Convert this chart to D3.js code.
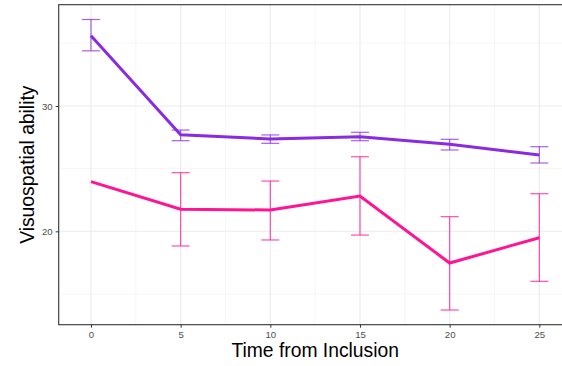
<!DOCTYPE html>
<html>
<head>
<meta charset="utf-8">
<script src="https://cdn.jsdelivr.net/npm/d3@7"></script>
<style>
  body { margin: 0; background: #fff; }
  svg { font-family: "Liberation Sans", Arial, sans-serif; }
</style>
</head>
<body>
<div id="chart"></div>
<script>
// time points
var times = [0, 5, 10, 15, 20, 25];

// purple group: mean, lower, upper
var purpleMean = [35.6, 27.7, 27.37, 27.55, 26.94, 26.09];
var purpleLow  = [34.4, 27.23, 27.02, 27.23, 26.49, 25.45];
var purpleHigh = [36.9, 28.08, 27.69, 27.9, 27.34, 26.75];

// pink group
var pinkMean = [23.96, 21.76, 21.7, 22.82, 17.47, 19.49];
var pinkLow  = [null, 18.83, 19.31, 19.7, 13.72, 16.01];
var pinkHigh = [null, 24.68, 24.01, 25.95, 21.17, 23.0];

var xTicks = [0, 5, 10, 15, 20, 25];
var yTicks = [20, 30];

var W = 562, H = 366;
var margin = {left: 58.7, top: 4.7, right: -9.6, bottom: 41.3};
var pw = W - margin.left - margin.right,
    ph = H - margin.top - margin.bottom;

var x = d3.scaleLinear().domain([-1.8, 26.8]).range([0, pw]);
var y = d3.scaleLinear().domain([12.55, 38.08]).range([ph, 0]);

var svg = d3.select("#chart").append("svg")
    .attr("width", W)
    .attr("height", H);

var g = svg.append("g")
    .attr("transform", "translate(" + margin.left + "," + margin.top + ")");

// minor grid
var xMinor = [2.5, 7.5, 12.5, 17.5, 22.5];
var yMinor = [15, 25, 35];
g.selectAll(".xminor").data(xMinor).enter().append("line")
    .attr("x1", d => x(d)).attr("x2", d => x(d))
    .attr("y1", 0).attr("y2", ph)
    .attr("stroke", "#f0f0f0").attr("stroke-width", 0.6);
g.selectAll(".yminor").data(yMinor).enter().append("line")
    .attr("y1", d => y(d)).attr("y2", d => y(d))
    .attr("x1", 0).attr("x2", pw)
    .attr("stroke", "#f0f0f0").attr("stroke-width", 0.6);

// major grid
g.selectAll(".xmajor").data(xTicks).enter().append("line")
    .attr("x1", d => x(d)).attr("x2", d => x(d))
    .attr("y1", 0).attr("y2", ph)
    .attr("stroke", "#ebebeb").attr("stroke-width", 1.1);
g.selectAll(".ymajor").data(yTicks).enter().append("line")
    .attr("y1", d => y(d)).attr("y2", d => y(d))
    .attr("x1", 0).attr("x2", pw)
    .attr("stroke", "#ebebeb").attr("stroke-width", 1.1);

// series
var series = [
  {mean: purpleMean, low: purpleLow, high: purpleHigh, color: "#8a2be2"},
  {mean: pinkMean, low: pinkLow, high: pinkHigh, color: "#ff1493"}
];

var line = d3.line()
    .x(d => x(d.t))
    .y(d => y(d.v));

series.forEach(function(s) {
  var pts = times.map((t, i) => ({t: t, v: s.mean[i], lo: s.low[i], hi: s.high[i]}));
  var eb = pts.filter(d => d.lo != null);
  var capW = x(0.5) - x(0);

  g.append("path")
      .datum(pts)
      .attr("d", line)
      .attr("fill", "none")
      .attr("stroke", s.color)
      .attr("stroke-width", 3);

  var bars = g.append("g")
      .attr("stroke", s.color)
      .attr("stroke-opacity", 0.75)
      .attr("stroke-width", 1.2);
  bars.selectAll(".v").data(eb).enter().append("line")
      .attr("x1", d => x(d.t)).attr("x2", d => x(d.t))
      .attr("y1", d => y(d.lo)).attr("y2", d => y(d.hi));
  bars.selectAll(".top").data(eb).enter().append("line")
      .attr("x1", d => x(d.t) - capW).attr("x2", d => x(d.t) + capW)
      .attr("y1", d => y(d.hi)).attr("y2", d => y(d.hi));
  bars.selectAll(".bot").data(eb).enter().append("line")
      .attr("x1", d => x(d.t) - capW).attr("x2", d => x(d.t) + capW)
      .attr("y1", d => y(d.lo)).attr("y2", d => y(d.lo));
});

// panel border
g.append("rect")
    .attr("width", pw).attr("height", ph)
    .attr("fill", "none")
    .attr("stroke", "#333333")
    .attr("stroke-width", 1.1);

// axes
var xAxis = g.append("g")
    .attr("transform", "translate(0," + ph + ")")
    .call(d3.axisBottom(x).tickValues(xTicks).tickSize(3).tickPadding(3));
var yAxis = g.append("g")
    .call(d3.axisLeft(y).tickValues(yTicks).tickSize(3).tickPadding(3));

[xAxis, yAxis].forEach(function(a) {
  a.select(".domain").remove();
  a.selectAll(".tick line").attr("stroke", "#333333").attr("stroke-width", 1);
  a.selectAll(".tick text")
      .attr("fill", "#4d4d4d")
      .style("font-size", "9.6px")
      .style("font-family", "Liberation Sans, Arial, sans-serif");
});

// axis titles
svg.append("text")
    .attr("x", margin.left + pw / 2)
    .attr("y", 357)
    .attr("text-anchor", "middle")
    .style("font-size", "19.3px")
    .text("Time from Inclusion");

svg.append("text")
    .attr("transform", "translate(34," + (margin.top + ph / 2) + ") rotate(-90)")
    .attr("text-anchor", "middle")
    .style("font-size", "19.3px")
    .text("Visuospatial ability");
</script>
</body>
</html>
